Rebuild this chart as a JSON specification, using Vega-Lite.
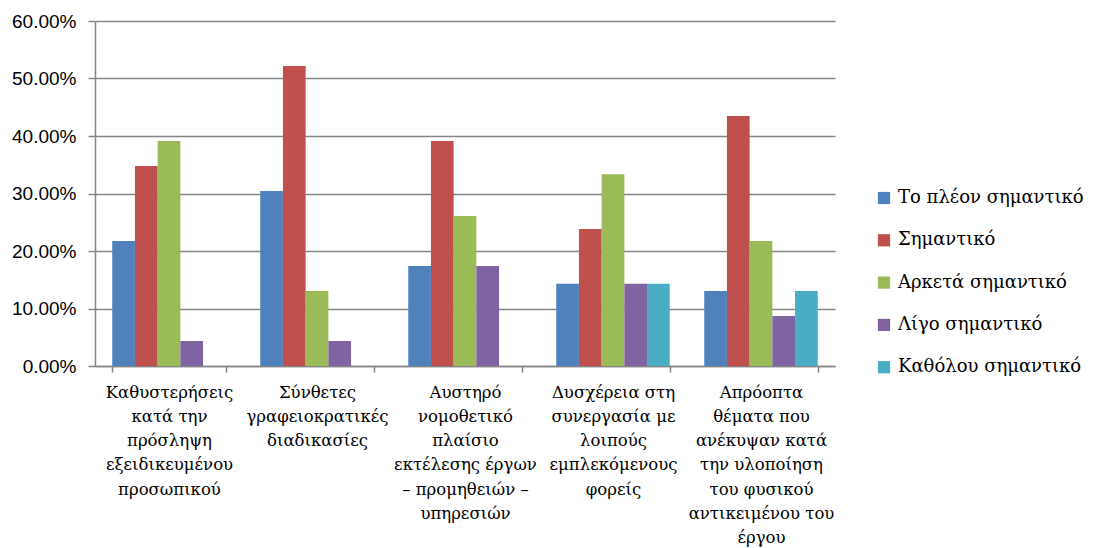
{
  "$schema": "https://vega.github.io/schema/vega-lite/v6.json",
  "width": 740,
  "height": 345,
  "autosize": {"type": "none"},
  "padding": {"left": 95, "top": 21, "right": 258, "bottom": 182},
  "background": "white",
  "data": {
    "values": [
      {"cat": "Καθυστερήσεις|κατά την|πρόσληψη|εξειδικευμένου|προσωπικού", "s": "Το πλέον σημαντικό", "v": 0.2174},
      {"cat": "Καθυστερήσεις|κατά την|πρόσληψη|εξειδικευμένου|προσωπικού", "s": " Σημαντικό", "v": 0.3478},
      {"cat": "Καθυστερήσεις|κατά την|πρόσληψη|εξειδικευμένου|προσωπικού", "s": "Αρκετά σημαντικό", "v": 0.3913},
      {"cat": "Καθυστερήσεις|κατά την|πρόσληψη|εξειδικευμένου|προσωπικού", "s": "Λίγο σημαντικό", "v": 0.0435},
      {"cat": "Καθυστερήσεις|κατά την|πρόσληψη|εξειδικευμένου|προσωπικού", "s": "Καθόλου σημαντικό", "v": 0},
      {"cat": "Σύνθετες|γραφειοκρατικές|διαδικασίες", "s": "Το πλέον σημαντικό", "v": 0.3043},
      {"cat": "Σύνθετες|γραφειοκρατικές|διαδικασίες", "s": " Σημαντικό", "v": 0.5217},
      {"cat": "Σύνθετες|γραφειοκρατικές|διαδικασίες", "s": "Αρκετά σημαντικό", "v": 0.1304},
      {"cat": "Σύνθετες|γραφειοκρατικές|διαδικασίες", "s": "Λίγο σημαντικό", "v": 0.0435},
      {"cat": "Σύνθετες|γραφειοκρατικές|διαδικασίες", "s": "Καθόλου σημαντικό", "v": 0},
      {"cat": "Αυστηρό|νομοθετικό|πλαίσιο|εκτέλεσης έργων|– προμηθειών –|υπηρεσιών", "s": "Το πλέον σημαντικό", "v": 0.1739},
      {"cat": "Αυστηρό|νομοθετικό|πλαίσιο|εκτέλεσης έργων|– προμηθειών –|υπηρεσιών", "s": " Σημαντικό", "v": 0.3913},
      {"cat": "Αυστηρό|νομοθετικό|πλαίσιο|εκτέλεσης έργων|– προμηθειών –|υπηρεσιών", "s": "Αρκετά σημαντικό", "v": 0.2609},
      {"cat": "Αυστηρό|νομοθετικό|πλαίσιο|εκτέλεσης έργων|– προμηθειών –|υπηρεσιών", "s": "Λίγο σημαντικό", "v": 0.1739},
      {"cat": "Αυστηρό|νομοθετικό|πλαίσιο|εκτέλεσης έργων|– προμηθειών –|υπηρεσιών", "s": "Καθόλου σημαντικό", "v": 0},
      {"cat": "Δυσχέρεια στη|συνεργασία με|λοιπούς|εμπλεκόμενους|φορείς", "s": "Το πλέον σημαντικό", "v": 0.1429},
      {"cat": "Δυσχέρεια στη|συνεργασία με|λοιπούς|εμπλεκόμενους|φορείς", "s": " Σημαντικό", "v": 0.2381},
      {"cat": "Δυσχέρεια στη|συνεργασία με|λοιπούς|εμπλεκόμενους|φορείς", "s": "Αρκετά σημαντικό", "v": 0.3333},
      {"cat": "Δυσχέρεια στη|συνεργασία με|λοιπούς|εμπλεκόμενους|φορείς", "s": "Λίγο σημαντικό", "v": 0.1429},
      {"cat": "Δυσχέρεια στη|συνεργασία με|λοιπούς|εμπλεκόμενους|φορείς", "s": "Καθόλου σημαντικό", "v": 0.1429},
      {"cat": "Απρόοπτα|θέματα που|ανέκυψαν κατά|την υλοποίηση|του φυσικού|αντικειμένου του|έργου", "s": "Το πλέον σημαντικό", "v": 0.1304},
      {"cat": "Απρόοπτα|θέματα που|ανέκυψαν κατά|την υλοποίηση|του φυσικού|αντικειμένου του|έργου", "s": " Σημαντικό", "v": 0.4348},
      {"cat": "Απρόοπτα|θέματα που|ανέκυψαν κατά|την υλοποίηση|του φυσικού|αντικειμένου του|έργου", "s": "Αρκετά σημαντικό", "v": 0.2174},
      {"cat": "Απρόοπτα|θέματα που|ανέκυψαν κατά|την υλοποίηση|του φυσικού|αντικειμένου του|έργου", "s": "Λίγο σημαντικό", "v": 0.087},
      {"cat": "Απρόοπτα|θέματα που|ανέκυψαν κατά|την υλοποίηση|του φυσικού|αντικειμένου του|έργου", "s": "Καθόλου σημαντικό", "v": 0.1304}
    ]
  },
  "mark": {"type": "bar"},
  "encoding": {
    "x": {
      "field": "cat",
      "type": "nominal",
      "sort": null,
      "scale": {"paddingInner": 0.233, "paddingOuter": 0.1165},
      "axis": {
        "title": null,
        "labelAngle": 0,
        "labelExpr": "split(datum.label, '|')",
        "labelFont": "DejaVu Serif",
        "labelFontSize": 16.5,
        "labelLineHeight": 24.3,
        "labelColor": "black",
        "labelBaseline": "top",
        "labelPadding": 12,
        "labelLimit": 0,
        "tickBand": "extent",
        "tickSize": 6,
        "tickColor": "#868686",
        "tickWidth": 1.5,
        "domainColor": "#868686",
        "domainWidth": 1.5
      }
    },
    "xOffset": {
      "field": "s",
      "type": "nominal",
      "scale": {
        "domain": ["Το πλέον σημαντικό", " Σημαντικό", "Αρκετά σημαντικό", "Λίγο σημαντικό", "Καθόλου σημαντικό"],
        "paddingInner": 0,
        "paddingOuter": 0
      }
    },
    "y": {
      "field": "v",
      "type": "quantitative",
      "scale": {"domain": [0, 0.6]},
      "axis": {
        "title": null,
        "format": ".2%",
        "values": [0, 0.1, 0.2, 0.3, 0.4, 0.5, 0.6],
        "labelFont": "Liberation Sans",
        "labelFontSize": 19,
        "labelColor": "black",
        "labelPadding": 12,
        "tickSize": 7,
        "tickColor": "#868686",
        "tickWidth": 1.5,
        "gridColor": "#868686",
        "gridWidth": 1.5,
        "domainColor": "#868686",
        "domainWidth": 1.5
      }
    },
    "color": {
      "field": "s",
      "type": "nominal",
      "scale": {
        "domain": ["Το πλέον σημαντικό", " Σημαντικό", "Αρκετά σημαντικό", "Λίγο σημαντικό", "Καθόλου σημαντικό"],
        "range": ["#4F81BD", "#C0504D", "#9BBB59", "#8064A2", "#4BACC6"]
      },
      "legend": {
        "title": null,
        "orient": "none",
        "legendX": 780,
        "legendY": 168,
        "symbolType": "square",
        "symbolSize": 150,
        "symbolStrokeWidth": 0,
        "labelFont": "DejaVu Serif",
        "labelFontSize": 18,
        "labelColor": "black",
        "labelOffset": 5,
        "rowPadding": 24.3,
        "labelLimit": 0
      }
    }
  },
  "config": {"view": {"stroke": null}}
}
